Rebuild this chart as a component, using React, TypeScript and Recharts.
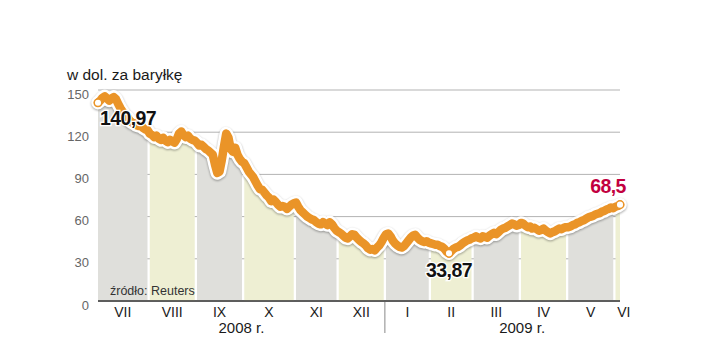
import React from "react";
import { ComposedChart, Area, Line, XAxis, YAxis, CartesianGrid } from "recharts";

// ropa naftowa, USD za baryłkę, notowania dzienne VII 2008 - VI 2009
const monthNames = ["VII", "VIII", "IX", "X", "XI", "XII", "I", "II", "III", "IV", "V", "VI"];
const jul = [140.97, 142.5, 144.5, 145.5, 144, 142.5, 144, 145, 143.5, 140, 137, 134.5, 132, 131, 128.5, 127, 126.5, 125, 124.5, 125.5, 123, 122, 121.5];
const aug = [119, 118, 116.5, 117.5, 115.5, 114.5, 116, 114, 113, 114.5, 113.5, 112.5, 115, 119, 120.5, 118, 116.5, 117.5, 115.5, 114.5, 114];
const sep = [112.5, 110.5, 111, 109.5, 108, 107, 105.5, 104, 97, 91, 92, 100, 110, 119, 116, 108, 106, 109, 104, 101, 99];
const oct = [98, 95, 92, 90, 88, 85, 82, 79.5, 79, 77, 75, 73.5, 71, 72, 70.5, 68.5, 67, 67.5, 67, 65.5, 67, 68.5, 69.5];
const nov = [70, 67, 64.5, 63, 61.5, 60, 59, 58, 57.5, 56, 55, 54.5, 56, 55, 54, 56, 54.5, 52, 50];
const dec = [49, 48, 46.5, 45, 44.5, 46, 47.5, 47, 45, 43.5, 42, 41, 39.5, 37.5, 36.5, 37, 36, 38, 39.5, 42, 45];
const jan = [47.5, 48, 46, 43, 41, 39.5, 38.5, 38, 39, 41, 43, 45, 46.5, 47, 45, 43.5, 42.5, 42, 42.5, 41.5];
const feb = [41, 40.5, 40, 40, 39, 38.5, 37, 35, 33.87, 35.5, 37, 38, 38.5, 39.5, 41, 42, 43, 43.5, 44.5];
const mar = [45, 46, 45, 44.5, 46, 45.5, 45, 46.5, 47.5, 48.5, 47.5, 49, 50.5, 51.5, 52, 53, 54, 55, 54.5, 53.5, 54];
const apr = [55.5, 55, 53.5, 52.5, 53, 51.5, 52, 51, 50, 50.5, 51.5, 50, 49, 48, 49, 49.5, 50.5, 51.5, 51, 52, 52.5];
const may = [52.5, 53, 54, 54.5, 55.5, 56, 57, 57.5, 58.5, 59.5, 60, 60.5, 61.5, 62, 62.5, 63.5, 64, 65, 65.5, 66.5, 66];
const jun = [67, 67.5, 68.5];
const months = [jul, aug, sep, oct, nov, dec, jan, feb, mar, apr, may, jun];

const yearLabels = ["2008 r.", "2009 r."];
const yTicks = [0, 30, 60, 90, 120, 150];

const ORANGE = "#ea9428";
const GREY = "#dfdfdb";
const YELLOW = "#eeefd3";
const FONT = "'Liberation Sans', Arial, sans-serif";

type Row = { i: number; price: number; [k: string]: number };
const rows: Row[] = [];
const monthTicks: number[] = [];
const monthStarts: number[] = [];
months.forEach((vals, m) => {
  const start = rows.length;
  monthStarts.push(start);
  vals.forEach((v) => rows.push({ i: rows.length, price: v, [`m${m}`]: v }));
  monthTicks.push(start + (vals.length - 1) / 2);
});
const lastIdx = rows.length - 1;
const minIdx = rows.reduce((b, r, k) => (r.price < rows[b].price ? k : b), 0);
// 2008: VII-XII, separator between XII and I
const sepPos = (monthStarts[6] - 1 + monthStarts[6]) / 2;
const yearTicks = [sepPos / 2, sepPos, 188.5];

const fmt = (v: number) => String(v).replace(".", ",");

const MonthTick = (props: any) => {
  const { x, y, payload } = props;
  const k = monthTicks.indexOf(payload.value);
  const dx = k === monthTicks.length - 1 ? 6 : 0;
  return (
    <text x={x + dx} y={y + 16} textAnchor="middle" fontSize={14} fontFamily={FONT} fill="#1a1a1a">
      {monthNames[k]}
    </text>
  );
};

const YearTick = (props: any) => {
  const { x, y, payload } = props;
  if (payload.value === sepPos) {
    return <line x1={x} x2={x} y1={y - 19} y2={y + 12} stroke="#888" strokeWidth={1} />;
  }
  const label = payload.value < sepPos ? yearLabels[0] : yearLabels[1];
  return (
    <text x={x} y={y + 12} textAnchor="middle" fontSize={15} fontFamily={FONT} fill="#1a1a1a">
      {label}
    </text>
  );
};

const Marker = (props: any) => {
  const { cx, cy, index } = props;
  if (index !== 0 && index !== minIdx && index !== lastIdx) return <g key={`d${index}`} />;
  const v = rows[index].price;
  let tx = cx, ty = cy, anchor = "middle", fill = "#111";
  if (index === 0) { tx = cx + 2; ty = cy + 22; anchor = "start"; }
  else if (index === minIdx) { ty = cy + 24; }
  else { tx = cx - 12; ty = cy - 12; fill = "#c2003f"; }
  return (
    <g key={`d${index}`}>
      <circle cx={cx} cy={cy} r={3.8} fill="#fff" stroke={ORANGE} strokeWidth={1.5} />
      <text x={tx} y={ty} textAnchor={anchor as any} fontSize={19.5} fontWeight="bold" fontFamily={FONT}
        fill={fill} stroke="#fff" strokeWidth={2.5} paintOrder="stroke" letterSpacing={-0.6}>
        {fmt(v)}
      </text>
    </g>
  );
};

export default function App() {
  return (
    <div style={{ position: "absolute", left: 0, top: 0, width: 720, height: 352, background: "#fff" }}>
      <style>{`.halo path { filter: drop-shadow(0px 1.5px 1.2px rgba(0,0,0,0.35)); }`}</style>
      <div style={{ position: "absolute", left: 67, top: 67, fontFamily: FONT, fontSize: 15.5, lineHeight: 1, color: "#1a1a1a", whiteSpace: "nowrap" }}>
        w dol. za baryłkę
      </div>
      <ComposedChart width={720} height={352} data={rows} margin={{ top: 90, right: 100, left: 0, bottom: 0 }}>
        {months.map((_, m) => (
          <Area key={m} type="linear" dataKey={`m${m}`} fill={m % 2 === 0 ? GREY : YELLOW} fillOpacity={1}
            stroke="none" dot={false} activeDot={false} isAnimationActive={false} />
        ))}
        <CartesianGrid horizontal vertical={false} stroke="#b3b3b3" strokeWidth={1} />
        <XAxis dataKey="i" type="number" domain={[0, lastIdx]} ticks={monthTicks} interval={0}
          tick={<MonthTick />} tickLine={false} tickSize={0} tickMargin={0} height={20}
          axisLine={{ stroke: "#333", strokeWidth: 1.5 }} />
        <XAxis xAxisId="yr" dataKey="i" type="number" domain={[0, lastIdx]} ticks={yearTicks} interval={0}
          tick={<YearTick />} tickLine={false} tickSize={0} tickMargin={0} height={31} axisLine={false} />
        <YAxis domain={[0, 150]} ticks={yTicks} width={98} axisLine={false} tickLine={false} tickSize={0}
          tickMargin={9} tick={{ fontSize: 13, fill: "#666", fontFamily: FONT, dy: 4 }} />
        <Line className="halo" type="linear" dataKey="price" stroke="#fff" strokeWidth={13.5} dot={false}
          activeDot={false} isAnimationActive={false} strokeLinejoin="round" strokeLinecap="round" />
        <Line type="linear" dataKey="price" stroke={ORANGE} strokeWidth={8.5} dot={Marker}
          activeDot={false} isAnimationActive={false} strokeLinejoin="round" strokeLinecap="round" />
      </ComposedChart>
      <div style={{ position: "absolute", left: 110, top: 284.5, fontFamily: FONT, fontSize: 12.5, lineHeight: 1, color: "#333", whiteSpace: "nowrap" }}>
        źródło: Reuters
      </div>
    </div>
  );
}
